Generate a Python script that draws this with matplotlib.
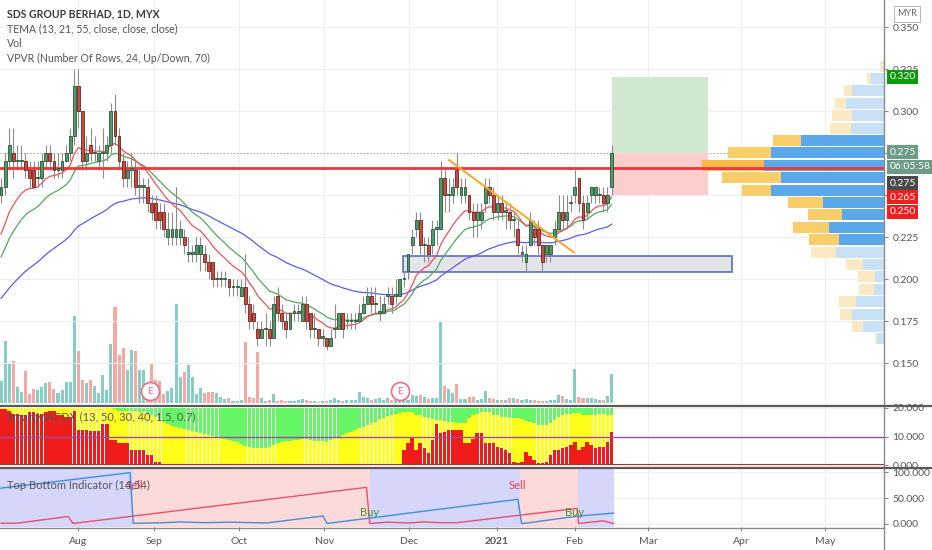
import matplotlib
matplotlib.use("Agg")
import matplotlib.pyplot as plt
from matplotlib.lines import Line2D
from matplotlib.patches import Rectangle
from matplotlib.transforms import blended_transform_factory
import numpy as np
import pandas as pd

plt.rcParams["font.family"] = ["Lato", "DejaVu Sans"]

# ---- daily candles, prices in thousandths of MYR ----
opens = [250, 255, 270, 275, 270, 270, 270, 265, 265, 260,
         260, 270, 275, 270, 265, 265, 270, 275, 285, 315,
         300, 270, 280, 275, 270, 275, 275, 280, 300, 285,
         270, 260, 265, 265, 255, 255, 255, 245, 245, 240,
         240, 225, 225, 225, 225, 225, 215, 215, 215, 215,
         215, 210, 210, 200, 200, 200, 200, 195, 195, 190,
         195, 185, 180, 170, 165, 170, 170, 165, 190, 180,
         175, 170, 180, 180, 175, 185, 180, 170, 170, 165,
         165, 160, 170, 170, 180, 175, 175, 175, 175, 180,
         185, 190, 185, 180, 180, 190, 190, 190, 190, 200,
         205, 220, 230, 235, 220, 220, 220, 230, 230, 260,
         250, 250, 265, 250, 250, 250, 240, 235, 235, 245,
         255, 250, 240, 245, 240, 240, 235, 230, 215, 210,
         220, 230, 230, 220, 215, 215, 225, 230, 240, 235,
         245, 250, 260, 245, 240, 250, 250, 250, 250, 245, 255]
closes = [255, 270, 280, 270, 270, 270, 265, 260, 255, 260,
          270, 275, 270, 265, 265, 270, 275, 285, 315, 300,
          270, 275, 275, 275, 275, 275, 280, 300, 285, 270,
          260, 265, 265, 255, 255, 255, 245, 240, 235, 235,
          230, 230, 230, 230, 230, 220, 215, 215, 220, 220,
          210, 205, 200, 200, 200, 200, 195, 195, 195, 195,
          185, 175, 175, 165, 170, 170, 165, 185, 180, 175,
          170, 180, 180, 180, 185, 175, 170, 170, 165, 165,
          160, 165, 170, 180, 170, 175, 175, 175, 180, 185,
          190, 185, 185, 180, 185, 190, 185, 190, 200, 200,
          215, 225, 235, 220, 220, 215, 230, 230, 260, 250,
          250, 255, 255, 255, 255, 240, 235, 240, 240, 255,
          250, 240, 245, 240, 240, 235, 235, 220, 215, 215,
          235, 225, 220, 210, 220, 220, 230, 240, 235, 240,
          245, 255, 245, 235, 245, 255, 255, 250, 245, 250, 275]
highs = [260, 275, 290, 290, 280, 280, 275, 270, 270, 270,
         275, 280, 280, 275, 275, 275, 280, 290, 325, 325,
         300, 285, 290, 285, 280, 290, 285, 305, 310, 290,
         275, 270, 275, 270, 265, 260, 260, 250, 250, 245,
         245, 240, 240, 255, 235, 230, 225, 220, 225, 225,
         220, 215, 210, 205, 205, 205, 200, 200, 200, 200,
         215, 190, 185, 175, 175, 180, 175, 190, 195, 185,
         180, 180, 185, 185, 190, 190, 180, 180, 170, 170,
         165, 170, 185, 180, 180, 180, 180, 180, 185, 190,
         195, 195, 195, 190, 190, 195, 195, 200, 200, 205,
         215, 230, 240, 240, 225, 225, 235, 235, 270, 265,
         260, 260, 275, 260, 260, 250, 245, 245, 245, 260,
         260, 255, 250, 250, 245, 245, 240, 235, 220, 220,
         240, 235, 235, 220, 220, 220, 235, 250, 250, 250,
         250, 265, 260, 250, 250, 255, 255, 255, 255, 255, 280]
lows = [245, 250, 265, 260, 265, 265, 260, 255, 255, 255,
        255, 265, 265, 260, 260, 260, 270, 270, 280, 290,
        265, 265, 270, 270, 265, 260, 270, 275, 280, 265,
        255, 255, 255, 250, 245, 245, 240, 235, 230, 230,
        225, 220, 220, 220, 220, 215, 210, 210, 210, 205,
        205, 200, 195, 195, 195, 195, 190, 190, 190, 190,
        180, 170, 170, 160, 165, 160, 160, 165, 175, 170,
        165, 170, 175, 175, 175, 170, 165, 165, 160, 160,
        158, 160, 165, 170, 165, 170, 170, 170, 175, 180,
        185, 180, 180, 175, 180, 185, 180, 185, 190, 195,
        200, 215, 225, 215, 210, 210, 215, 220, 230, 240,
        240, 245, 250, 245, 245, 235, 225, 225, 230, 240,
        245, 235, 235, 235, 230, 230, 225, 215, 210, 205,
        220, 220, 215, 205, 210, 210, 220, 230, 230, 230,
        240, 245, 240, 230, 235, 245, 245, 245, 240, 240, 250]
volumes = [22, 62, 39, 42, 16, 11, 32, 9, 14, 13,
           16, 20, 21, 14, 10, 13, 21, 21, 87, 52,
           23, 20, 23, 17, 10, 28, 13, 59, 96, 48,
           55, 33, 53, 52, 33, 33, 8, 39, 23, 22,
           9, 12, 15, 99, 26, 31, 38, 26, 9, 15,
           10, 11, 11, 10, 6, 4, 5, 2, 2, 3,
           61, 6, 5, 51, 5, 2, 3, 9, 2, 3,
           2, 2, 2, 3, 4, 3, 2, 2, 1, 2,
           2, 3, 5, 3, 2, 3, 3, 3, 11, 6,
           5, 3, 4, 5, 3, 5, 3, 3, 6, 4,
           3, 8, 7, 8, 6, 4, 5, 5, 81, 17,
           14, 10, 19, 4, 4, 6, 6, 3, 4, 12,
           5, 4, 3, 3, 3, 5, 5, 4, 3, 4,
           3, 3, 2, 2, 2, 3, 3, 8, 7, 4,
           3, 34, 6, 5, 5, 5, 4, 3, 3, 7, 29]

# TEMA line starting levels at the left edge
tema_seeds = {13: 0.222, 21: 0.209, 55: 0.186}

# ---- SmartMACDX panel (red part, yellow top) ----
macd_red = [19.5, 19.5, 19, 18, 18, 17.5, 17.5, 18.7, 18.7, 18,
            18, 18.5, 19, 19, 17.5, 17.5, 17, 17, 19, 12.3,
            12.3, 12.3, 12, 12, 12, 14.3, 14.3, 8.8, 8.8, 7.6,
            7.6, 7.6, 5.3, 5.3, 5.3, 5.3, 3.5, 3.5, 1, 1] + [0.3] * 59 + [
            5.3, 7.6, 9.9, 5.3, 7.6, 6, 4.1, 8.8, 14.4, 11.1,
            11.7, 12.3, 12.3, 12.3, 12.3, 7.6, 7.6, 9, 11.1, 11.1,
            7.6, 7.6, 7.6, 6.4, 5.8, 5.3, 4.1, 1.2, 0.6, 1.2,
            4.7, 3, 1.8, 0.6, 0.6, 1.2, 3.5, 5.3, 5.3, 5.8,
            6.4, 7, 8.2, 5.3, 6.4, 8.2, 7, 5.8, 6.4, 6.4, 8.2, 11.7]
macd_yellow_top = [20] * 28 + [
    19.5, 19, 19, 19, 18.8, 18.8, 18.5, 18.5, 18, 17.5, 17, 16, 15,
    14.3, 13.8, 13.4, 13, 12.6, 12.3, 12, 11.6, 11.3,
    10.9, 10.6, 10.3, 10, 9.6, 9.2,
    8.8, 8.4, 8, 7.2, 6.8,
    6.4, 6, 5.8, 5.8, 6, 6.4,
    7, 7.6, 8, 8.5, 8.5, 8.8, 8.8, 9,
    9, 8.8, 8.5, 8.5, 8.5, 8.2,
    8.8, 9.3, 9.9, 10.5, 11.1, 11.7,
    12.3, 13, 13.5, 14,
    14.6, 15.2, 16, 16.6, 17.2, 17.5, 18, 18.2,
    18.5, 18.7, 18.7,
    17.5, 17.5, 17, 16.4, 16, 15.8,
    15.8, 15.5, 15.2, 15, 14.6, 14.6, 14.6,
    16.5, 17.5, 18, 18.5, 18.7, 18.7,
    17.5, 17.5, 17, 17, 16.4, 16.4, 16.4,
    16, 15.5, 15, 14.6, 14, 14,
    14, 14.6, 15.8, 17,
    17.5, 18, 18, 18.2, 18.2, 17.5,
    17.5, 17.5, 17.5, 18, 18, 17.5, 17.5]

# ---- Top Bottom Indicator ----
tb_blue_x = [0, 31.7, 32.5, 40, 44, 50, 56, 65.3, 79.1, 80.1, 127, 127.9, 141.6, 150.5]
tb_blue_y = [69, 98.7, 1.3, 2.5, 4, 2.5, 3.5, 2, 15.4, 1, 47.5, 0.6, 15, 21]
tb_red_x = [0, 4, 16.5, 17.7, 89.8, 90.6, 95, 100, 104, 108, 112, 141.6, 141.9, 148, 150.5]
tb_red_y = [1.5, 1.5, 14.5, 1, 70.5, 1, 3.5, 2, 4, 2.5, 2.5, 30, 1, 6, 1]
tb_zones = [(-1, 32.5, "#d6d6fb"), (32.5, 90.6, "#fddada"), (90.6, 127.4, "#d6d6fb"),
            (127.4, 141.8, "#fddada"), (141.8, 150.5, "#d6d6fb")]
tb_signals = [(32.7, "Sell"), (90.6, "Buy"), (126.8, "Sell"), (140.8, "Buy")]

# ---- VPVR rows, bottom to top (up volume, down volume) ----
vp_up = [7, 21, 32, 28, 10, 9, 21, 48, 45, 55, 42, 61, 113, 103, 120, 113, 83, 33, 32, 38, 32, 13, 1]
vp_down = [2, 11, 12, 17, 15, 17, 17, 25, 30, 36, 34, 35, 29, 59, 62, 43, 28, 21, 20, 11, 8, 4, 3]
vp_low, vp_step = 0.1607, 0.00738
vp_area = (8, 16)
vp_poc = 14

month_pos = [18.9, 37.6, 58.5, 79.4, 100.3, 121.9, 141.0, 159.0, 181.8, 202.5]
month_lbl = ["Aug", "Sep", "Oct", "Nov", "Dec", "2021", "Feb", "Mar", "Apr", "May"]
earnings_idx = [36.6, 98.0]

o = np.array(opens) / 1000
c = np.array(closes) / 1000
hi = np.array(highs) / 1000
lo = np.array(lows) / 1000
idx = np.arange(len(c))
up = c >= o

W, H = 932, 550
fig = plt.figure(figsize=(W / 100, H / 100), dpi=100)


def fbox(top, bottom, left=0, right=884):
    return [left / W, 1 - bottom / H, (right - left) / W, (bottom - top) / H]


axv = fig.add_axes(fbox(0, 405))
ax = axv.twinx()
ax2 = fig.add_axes(fbox(406, 467), sharex=axv)
ax3 = fig.add_axes(fbox(469, 527), sharex=axv)
axv.set_zorder(0)
ax.set_zorder(1)
ax.patch.set_visible(False)

grid_c = "#eeeeee"
for a in (axv, ax2, ax3):
    for m in month_pos:
        a.axvline(m, color=grid_c, lw=0.8, zorder=0)

# volume
axv.bar(idx, volumes, width=0.75, color=np.where(up, "#86cdc5", "#f5a7a4"), zorder=1)
for e in earnings_idx:
    axv.plot(e, 12, "o", ms=13, mfc="white", mec="#f06a8a", mew=1.2, zorder=3)
    axv.text(e, 12, "E", color="#f06a8a", fontsize=7, ha="center", va="center", zorder=4)
axv.set_ylim(-2, 403)
axv.set_yticks([])

# price grid + levels
price_ticks = [0.15, 0.175, 0.2, 0.225, 0.25, 0.275, 0.3, 0.325, 0.35]
for p in price_ticks:
    ax.axhline(p, color=grid_c, lw=0.8, zorder=0)
ax.axhline(0.275, color="#9a9a9a", lw=0.8, ls=(0, (1, 2)), zorder=1)

# position tool and zone
ax.add_patch(Rectangle((150, 0.275), 23.7, 0.045, fc="#cfe8cf", ec="none", zorder=1))
ax.add_patch(Rectangle((150, 0.250), 23.7, 0.025, fc="#fbcdcd", ec="none", zorder=1))
ax.add_patch(Rectangle((98.8, 0.2044), 80.8, 0.0095, fc="#e4e5e9", ec="#5f6fb8", lw=1.2, zorder=2))

# VPVR
vp_tr = blended_transform_factory(ax.transAxes, ax.transData)
for k, (u, d) in enumerate(zip(vp_up, vp_down)):
    inside = vp_area[0] <= k <= vp_area[1]
    cu = "#5aa8ea" if inside else "#c9e1f7"
    cd = "#f8cd6a" if inside else "#fbe9c3"
    if k == vp_poc:
        cd = "#f9b84a"
    yb = vp_low + k * vp_step + 0.0004
    hgt = vp_step - 0.0008
    ax.add_patch(Rectangle((1 - u / 884, yb), u / 884, hgt, transform=vp_tr, fc=cu, ec="none", zorder=2))
    ax.add_patch(Rectangle((1 - (u + d) / 884, yb), d / 884, hgt, transform=vp_tr, fc=cd, ec="none", zorder=2))

ax.axhline(0.2663, color="#e53a3a", lw=2, zorder=5)

# TEMA-style lines
for span, col in [(55, "#5b5cf0"), (21, "#4faa5a"), (13, "#f0505a")]:
    line = pd.Series(np.r_[tema_seeds[span], c]).ewm(span=span, adjust=False).mean().values[1:]
    ax.plot(idx, line, color=col, lw=0.9, zorder=3)

# candles
ax.vlines(idx, lo, hi, color="#8c8c8c", lw=0.8, zorder=4)
body = np.maximum(np.abs(c - o), 0.0008)
ax.bar(idx, body, bottom=np.minimum(o, c), width=0.7,
       color=np.where(up, "#4f9a69", "#cd4a40"), edgecolor=np.where(up, "#2a5538", "#6a231d"),
       lw=0.6, zorder=5)

# trend line
ax.plot([110.1, 140.8], [0.2708, 0.2157], color="#f5a623", lw=1.4, zorder=6)

ax.set_ylim(0.125, 0.3661)
ax.set_yticks(price_ticks)
ax.set_yticklabels(["" if p in (0.25, 0.275) else f"{p:.3f}" for p in price_ticks])

# right-side price labels
lab_tr = blended_transform_factory(ax.transAxes, ax.transData)
for y, txt, fc in [(0.3204, "0.320", "#0a9a0a"), (0.2755, "0.275", "#6d9c84"),
                   (0.2667, "06:05:58", "#6d9c84"), (0.2571, "0.275", "#4a4a4a"),
                   (0.2488, "0.265", "#f21d1d"), (0.2399, "0.250", "#f21d1d")]:
    ax.text(1.0065, y, txt, transform=lab_tr, ha="left", va="center", fontsize=7.5, color="white",
            bbox=dict(boxstyle="square,pad=0.22", fc=fc, ec="none"), clip_on=False, zorder=10)

# SmartMACDX panel
red = np.array(macd_red)
ytop = np.array(macd_yellow_top)
ax2.bar(idx, red, width=0.85, color="#f01c1c", zorder=1)
ax2.bar(idx, ytop - red, bottom=red, width=0.85, color="#ffff1a", zorder=1)
ax2.bar(idx, 20 - ytop, bottom=ytop, width=0.85, color="#66f566", zorder=1)
ax2.axhline(0.3, color="#9c3a2a", lw=0.8, zorder=2)
ax2.axhline(10, color="#a04aa6", lw=1, zorder=2)
ax2.set_ylim(-0.7, 20.7)
ax2.set_yticks([0, 10, 20])
ax2.set_yticklabels(["0.000", "10.000", "20.000"])
ax2.text(7 / 884, 0.82, "SmartMACDX (13, 50, 30, 40, 1.5, 0.7)", transform=ax2.transAxes,
         fontsize=8, color="#555555", va="center", zorder=5)

# Top Bottom panel
for x0, x1, col in tb_zones:
    ax3.axvspan(x0, x1, color=col, lw=0, zorder=0.5)
ax3.plot(tb_red_x, tb_red_y, color="#e8506a", lw=1, zorder=2)
ax3.plot(tb_blue_x, tb_blue_y, color="#3d8ee0", lw=1, zorder=2)
for x, s in tb_signals:
    if s == "Sell":
        ax3.text(x, 75, s, color="#e0405a", fontsize=8, ha="center", va="center", zorder=3)
    else:
        ax3.text(x, 23, s, color="#3a9a30", fontsize=8, ha="center", va="center", zorder=3)
ax3.text(7 / 884, 0.72, "Top Bottom Indicator (14,54)", transform=ax3.transAxes,
         fontsize=8, color="#555555", va="center", zorder=4)
ax3.set_ylim(-5.8, 105.8)
ax3.set_yticks([0, 50, 100])
ax3.set_yticklabels(["0.000", "50.000", "100.000"])
for yv in (0, 50, 100):
    ax3.axhline(yv, color=grid_c, lw=0.8, zorder=0.2)
for yv in (0, 10, 20):
    ax2.axhline(yv, color=grid_c, lw=0.8, zorder=0.2)

axv.set_xlim(-0.25, 216.95)
ax3.set_xticks(month_pos)
ax3.set_xticklabels(month_lbl)
for t in ax3.get_xticklabels():
    if t.get_text() == "2021":
        t.set_fontweight("bold")

for a in (axv, ax, ax2, ax3):
    for s in a.spines.values():
        s.set_visible(False)
    a.tick_params(axis="y", which="both", right=True, left=False, labelright=True, labelleft=False,
                  length=3, color="#888888", labelsize=7.5, labelcolor="#555555", pad=3)
    a.tick_params(axis="x", which="both", bottom=False, labelbottom=False)
axv.tick_params(axis="y", right=False, labelright=False)
ax3.tick_params(axis="x", bottom=True, labelbottom=True, length=3, color="#888888",
                labelsize=7.5, labelcolor="#555555", pad=4)

# frame lines
fig.add_artist(Line2D([884 / W, 884 / W], [0, 1], color="#8a8a8a", lw=1))
fig.add_artist(Line2D([0, 1], [1 - 405.5 / H] * 2, color="#5a5a5a", lw=1.6))
fig.add_artist(Line2D([0, 1], [1 - 468 / H] * 2, color="#5a5a5a", lw=1.6))
fig.add_artist(Line2D([0, 884 / W], [1 - 527.5 / H] * 2, color="#8a8a8a", lw=1))

# legend text
fig.text(7 / W, 1 - 14 / H, "SDS GROUP BERHAD, 1D, MYX", fontsize=7.6, color="#3a3a3a",
         fontweight="bold", va="center")
for k, s in enumerate(["TEMA (13, 21, 55, close, close, close)", "Vol",
                       "VPVR (Number Of Rows, 24, Up/Down, 70)"]):
    fig.text(7 / W, 1 - (29 + 14.5 * k) / H, s, fontsize=7.6, color="#555555", va="center")
fig.text(907 / W, 1 - 14 / H, "MYR", fontsize=6.5, color="#666666", ha="center", va="center",
         bbox=dict(boxstyle="square,pad=0.35", fc="white", ec="#bbbbbb", lw=0.8))

fig.savefig("out.png", dpi=100)
